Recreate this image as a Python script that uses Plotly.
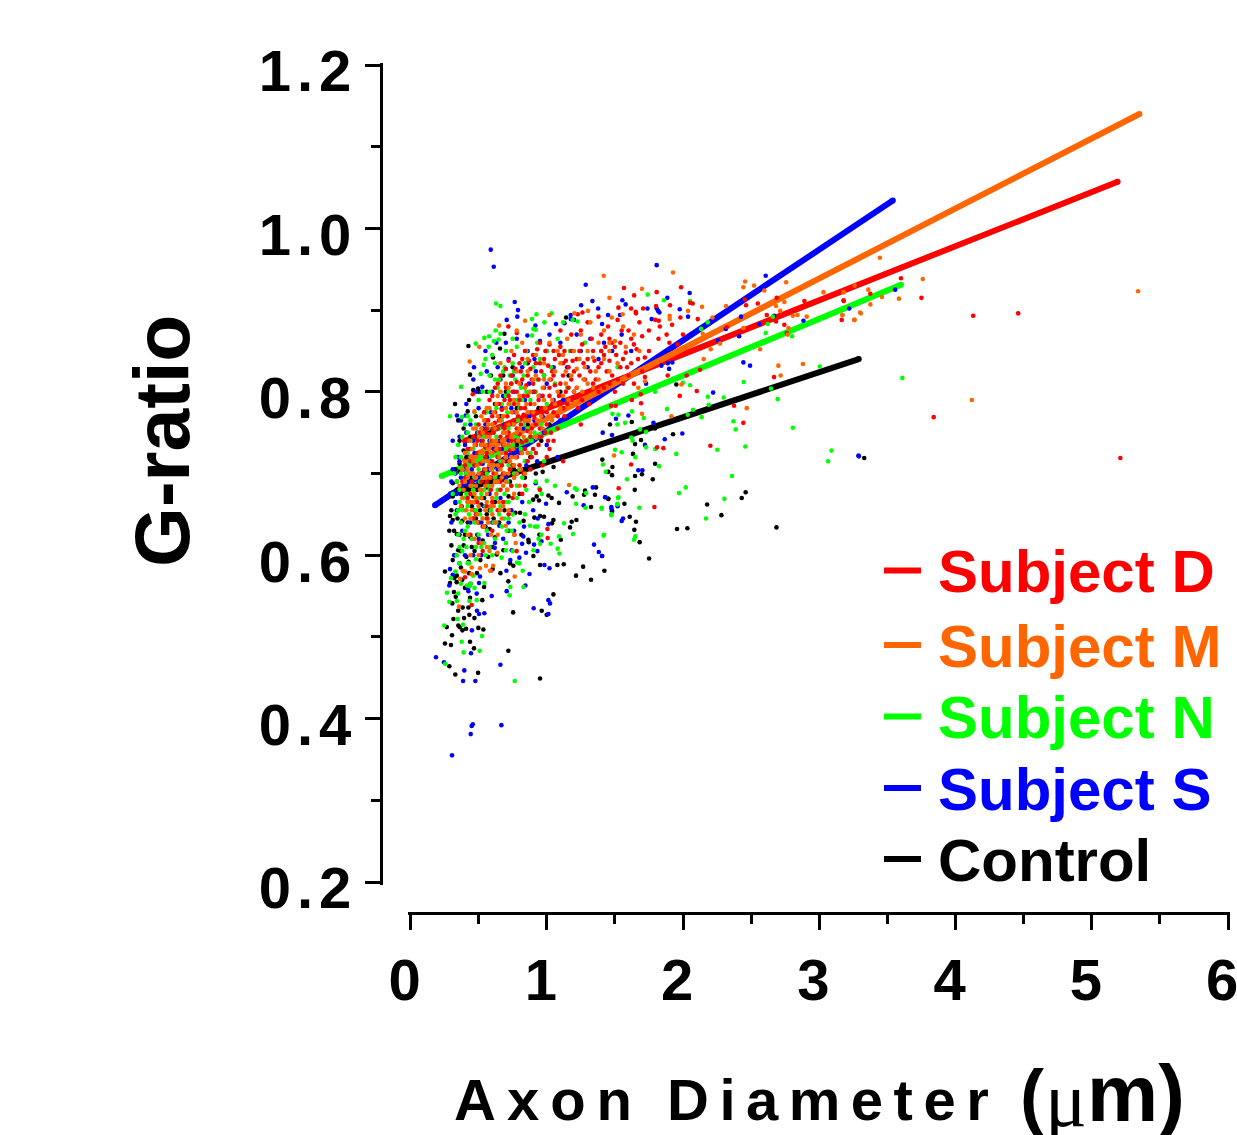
import plotly.graph_objects as go

W, H = 1237, 1135

# Regression lines: (diameter, g-ratio) at both ends
line_d = [(0.40, 0.740), (5.19, 1.057)]
line_m = [(0.40, 0.716), (5.35, 1.140)]
line_n = [(0.23, 0.697), (3.60, 0.931)]
line_s = [(0.18, 0.661), (3.54, 1.034)]
line_c = [(0.30, 0.675), (3.29, 0.840)]

control_points = [
(3.33,.719),(1.951,.809),(1.795,.755),(1.692,.741),(1.624,.763),(1.648,.736),(1.795,.712),(1.778,.693),(1.699,.699),(1.648,.697),
(1.479,.698),(1.482,.708),(1.452,.702),(1.408,.717),(1.633,.724),(2.46,.677),(2.431,.67),(2.177,.662),(2.282,.649),(2.686,.634),
(2.032,.633),(1.956,.632),(1.646,.68),(1.452,.669),(1.57,.663),(1.479,.654),(1.609,.647),(1.655,.641),(1.643,.631),(1.682,.616),
(1.751,.596),(1.927,.748),(1.464,.76),
(.951,.449),(.329,.454),(.496,.456),(.285,.464),(.466,.486),(.718,.483),(.437,.494),(.253,.492),(.297,.49),(.305,.502),
(.381,.508),(.408,.51),(.498,.511),(.535,.509),(.266,.512),(.351,.514),(.361,.512),(.393,.523),(.432,.527),(.469,.523),
(.315,.522),(.753,.53),(.963,.532),(1.0,.527),(1.049,.552),(.383,.536),(.425,.536),(.307,.541),(.332,.549),(.319,.555),
(.437,.548),(.527,.545),(.54,.561),(.253,.58),(.322,.572),(.339,.567),(.488,.578),(.66,.578),(.718,.568),(.427,.592),
(.513,.594),(.603,.583),(.731,.59),(.755,.587),(.951,.588),(1.078,.588),(1.125,.589),(1.215,.575),(1.267,.586),(1.325,.57),
(1.423,.581),(.902,.599),(.633,.601),(.682,.606),(1.103,.619),(.865,.619),(.868,.616),(.946,.625),(.814,.625),(1.039,.639),
(1.049,.643),(1.171,.634),(1.183,.641),(1.218,.643),(.804,.652),(.909,.646),(.951,.648),(.98,.647),(1.09,.664),(1.19,.672),
(1.325,.659),(1.281,.679),(1.274,.674),(1.354,.674),(1.362,.683),(1.452,.669),(1.479,.654),(1.012,.673),(1.036,.67),(.926,.672),
(.943,.667),(.689,.871),(.425,.856),(.606,.842),(.437,.821),(.496,.804),(.461,.802),(.327,.785),(.42,.776),(1.142,.891),
(.657,.853),
(.30,.655),(.31,.672),(.33,.664),(.29,.648),(.285,.63),(.32,.63),(.345,.645),(.36,.625),(.375,.66),(.35,.606),
(.33,.60),(.39,.612),(.41,.598),(.30,.612),(.42,.64),(.44,.622),(.47,.655),(.50,.64),(.53,.618),(.56,.65),
(.58,.632),(.62,.665),(.65,.64),(.69,.655),(.73,.69),(.76,.705),(.80,.675),(.84,.695),(.88,.72),(.92,.70),
(.60,.69),(.55,.70),(.47,.71),(.41,.72),(.36,.74),(.39,.755),(.44,.745),(.52,.735),(.66,.74),(.72,.76),
(.80,.74),(.86,.76),(.94,.78),(1.02,.76),(1.1,.80),(1.16,.82),(.70,.80),(.62,.785),(.55,.775),(.50,.80),
(.75,.83),(.86,.835),(1.0,.85),(.59,.82),(.41,.70),(.34,.69),(.33,.705),(.37,.675),(.42,.665),(.49,.68),
(.31,.643),(.34,.626),(.38,.642),(.31,.688),(.36,.702),(.40,.682),(.44,.695),(.46,.672),(.52,.662),(.56,.683),
(.63,.712),(.68,.692),(.72,.672),(.77,.652),(.83,.642),(.90,.668),(.97,.702),(1.05,.708),(.37,.605),(.43,.578),
(.37,.585),(.31,.594),(.29,.566),(.35,.532),(.40,.56),(.47,.605),(.57,.598),(.62,.622),(.72,.63),
(.35,.765),(.43,.79),(.56,.80),(.66,.77),(.78,.78),(.90,.80),(.98,.82),(.68,.82),(.48,.77),(.58,.75),
(.34,.68),(.35,.655),(.39,.67),(.43,.68),(.45,.66),(.48,.645),(.51,.655),(.54,.67),(.58,.655),(.61,.645),
(.36,.712),(.39,.728),(.44,.73),(.49,.745),(.53,.755),(.62,.73),(.70,.715),(.78,.735),(.85,.715),(.96,.74),
(.40,.625),(.45,.61),(.49,.625),(.55,.635),(.60,.61),(.34,.575),(.38,.57),(.44,.565),
]

subject_s_points = [
(3.29,.721),(3.557,.925),(3.22,.902),(1.807,.955),(2.607,.942),(2.049,.921),(1.555,.912),(1.885,.915),(1.579,.907),(1.739,.902),
(1.807,.902),(1.976,.901),(1.817,.899),(1.827,.897),(1.538,.894),(1.45,.894),(2.037,.892),(1.77,.889),(1.406,.883),(2.426,.892),
(2.884,.887),(2.669,.893),(2.561,.883),(2.412,.868),(2.314,.877),(2.257,.863),(2.443,.836),(2.492,.832),(2.221,.799),(1.729,.81),
(1.898,.828),(1.841,.832),(1.922,.836),(1.888,.835),(1.599,.771),(1.508,.767),(1.479,.747),(1.411,.75),(1.783,.762),(1.995,.749),
(1.866,.742),(1.721,.735),(3.288,.722),(1.702,.704),(1.672,.704),(1.428,.671),(1.474,.659),(1.52,.66),(1.56,.645),(1.55,.642),
(1.406,.599),
(.305,.355),(.442,.381),(.449,.391),(.457,.393),(.667,.392),(.386,.446),(.476,.446),(.395,.459),(.66,.466),(.246,.469),
(.187,.475),(.444,.48),(.451,.508),(.503,.528),(.542,.529),(.488,.532),(.904,.535),(1.012,.528),(1.024,.541),(1.012,.545),
(.425,.556),(.422,.559),(.486,.553),(.596,.55),(.706,.556),(.843,.563),(.285,.563),(.503,.566),(.29,.583),(.31,.576),
(.51,.574),(.704,.581),(.873,.577),(.983,.588),(1.02,.584),(.931,.605),(1.347,.613),(1.382,.604),(1.406,.599),(.733,.594),
(.848,.603),(.743,.606),(.799,.597),(.618,.609),(.907,.613),(.819,.614),(.961,.617),(.828,.623),(.652,.636),(.934,.645),
(.833,.635),(1.012,.638),(1.271,.661),(1.147,.677),(1.338,.683),(1.43,.671),(1.475,.657),(.995,.663),(.919,.688),
(.589,.974),(.611,.953),(1.286,.931),(1.335,.911),(.765,.91),(.789,.9),(.784,.892),(1.252,.906),(1.377,.902),(.706,.888),
(1.176,.894),(1.176,.889),(1.2,.888),(1.13,.884),(1.068,.883),(.917,.881),(.858,.869),(.78,.865),(.466,.83),(.461,.815),
(.527,.806),(.341,.771),(.405,.771),
(.86,.85),(.95,.862),(1.02,.87),(1.1,.86),(1.22,.87),(1.32,.865),(1.42,.86),(1.55,.87),(1.62,.85),(1.3,.83),
(1.15,.83),(1.05,.83),(.92,.825),(.82,.83),(.72,.84),(.64,.83),(.56,.825),(.60,.80),(.68,.795),(.76,.80),
(.84,.79),(.95,.795),(1.05,.79),(1.2,.80),(.50,.78),(.44,.76),(.55,.76),(.63,.755),(.72,.74),(.80,.725),
(.90,.74),(1.0,.735),(1.08,.72),(.35,.72),(.40,.735),(.47,.725),(.56,.72),(.64,.705),(.70,.695),(.78,.70),
(.85,.71),(.30,.69),(.33,.70),(.38,.68),(.42,.69),(.50,.69),(.58,.675),(.66,.67),(.74,.655),(.82,.665),
(.90,.655),(.30,.64),(.34,.655),(.38,.63),(.44,.64),(.50,.62),(.54,.66),(.60,.64),(.68,.62),(.76,.63),
(.32,.60),(.36,.59),(.40,.60),(.46,.60),(.52,.60),(.33,.665),(.47,.665),(.62,.615),
(.31,.705),(.29,.675),(.37,.695),(.45,.705),(.53,.712),(.61,.73),(.69,.76),(.77,.775),(.87,.77),(.97,.77),
(1.12,.79),(.52,.80),(.66,.815),(.75,.82),(.87,.81),(1.0,.81),(1.25,.85),(1.38,.84),(1.48,.85),(.58,.74),
(.49,.75),(.41,.75),(.36,.745),(.67,.73),(.75,.71),(.93,.715),(.44,.665),(.52,.64),(.57,.625),(.72,.64),
(.34,.675),(.36,.715),(.39,.705),(.43,.72),(.46,.74),(.52,.74),(.59,.715),(.64,.74),(.71,.72),(.77,.745),
(.83,.755),(.91,.765),(.98,.75),(1.1,.765),(.59,.775),(.67,.78),(.74,.78),(.81,.81),(.91,.84),(.70,.86),
(.63,.86),(.55,.85),(.48,.80),(.41,.785),(.37,.765),(.31,.74),
]

subject_n_points = [
(3.61,.817),(2.659,.892),(2.622,.883),(2.801,.868),(2.607,.872),(2.133,.877),(2.182,.885),(1.741,.919),(1.861,.912),(2.052,.911),
(3.004,.831),(2.446,.812),(2.0,.811),(2.052,.808),(2.182,.794),(2.299,.793),(2.695,.791),(2.646,.804),(2.189,.784),(2.074,.778),
(2.035,.772),(2.137,.769),(1.883,.779),(2.37,.764),(2.387,.754),(2.806,.756),(1.795,.80),(2.252,.729),(2.458,.733),(3.09,.728),
(3.065,.715),(1.951,.724),(1.824,.709),(2.36,.697),(1.589,.693),(1.433,.702),(1.413,.711),(1.65,.72),(1.55,.726),(1.501,.729),
(2.02,.683),(1.971,.676),(2.304,.669),(2.169,.645),(1.526,.671),(1.518,.662),(1.403,.658),(1.68,.658),(1.474,.65),(1.42,.625),
(1.65,.623),(1.641,.619),(1.626,.776),(1.482,.773),(1.526,.772),(1.712,.768),(1.575,.762),(1.518,.76),(1.685,.754),(1.729,.751),
(1.62,.744),(1.63,.74),(1.729,.732),(1.797,.73),
(.765,.446),(.256,.467),(.39,.481),(.508,.483),(.376,.494),(.525,.501),(.248,.514),(.385,.515),(.346,.522),(.285,.543),
(.34,.544),(.268,.554),(.349,.553),(.432,.544),(.486,.545),(.728,.551),(.733,.561),(.829,.561),(.415,.563),(.435,.562),
(.297,.572),(.542,.566),(.824,.581),(.782,.591),(.799,.59),(.669,.597),(.902,.606),(1.08,.608),(1.093,.602),(1.029,.614),
(.951,.614),(.70,.606),(.75,.605),(1.09,.623),(.94,.62),(.961,.625),(1.193,.626),(1.418,.624),(.743,.63),(.706,.63),
(.877,.636),(.914,.635),(.931,.635),(1.127,.639),(1.215,.663),(1.286,.658),(1.289,.676),(1.404,.657),(1.475,.649),(1.523,.67),
(1.519,.663),(1.061,.685),(1.208,.682),(1.22,.68),(.963,.675),(.946,.682),(1.0,.691),
(.628,.908),(.66,.905),(.924,.895),(.892,.889),(1.036,.896),(1.227,.886),(1.19,.888),(1.12,.885),(.983,.885),(.902,.877),
(.92,.876),(.625,.875),(.66,.871),(.892,.869),(.75,.865),(.479,.859),(.542,.866),(.577,.868),(.613,.862),(.647,.864),
(.574,.855),(.515,.822),(.537,.833),(.371,.806),(.29,.77),(.378,.769),
(.70,.85),(.78,.855),(.85,.85),(.93,.86),(1.0,.85),(1.08,.865),(1.17,.85),(1.28,.86),(1.4,.85),(1.52,.83),
(.62,.835),(.68,.825),(.75,.835),(.83,.82),(.90,.83),(.98,.82),(1.06,.81),(1.15,.805),(.58,.80),(.66,.80),
(.74,.81),(.82,.79),(.92,.80),(1.0,.785),(.50,.79),(.56,.775),(.63,.78),(.71,.775),(.79,.765),(.87,.775),
(.96,.76),(.42,.75),(.48,.76),(.54,.745),(.61,.75),(.68,.75),(.76,.745),(.84,.74),(.35,.735),(.40,.725),
(.46,.73),(.52,.72),(.58,.725),(.64,.725),(.70,.72),(.78,.72),(.88,.725),(.98,.715),(.32,.70),(.38,.705),
(.44,.70),(.50,.705),(.56,.70),(.62,.695),(.68,.70),(.74,.685),(.82,.695),(.92,.69),(.31,.675),(.36,.68),
(.41,.675),(.46,.68),(.52,.675),(.58,.68),(.64,.68),(.70,.665),(.78,.67),(.87,.665),(.33,.65),(.38,.655),
(.43,.65),(.48,.655),(.53,.645),(.59,.655),(.65,.65),(.72,.645),(.80,.64),(.35,.625),(.40,.63),(.45,.62),
(.50,.625),(.56,.63),(.62,.62),(.70,.615),(.34,.60),(.38,.605),(.43,.59),(.48,.595),(.55,.60),(.33,.58),
(.37,.565),(.46,.575),
(.55,.84),(.60,.845),(.65,.815),(.72,.80),(.78,.79),(.85,.80),(.95,.84),(.60,.76),(.67,.765),(.75,.76),
(.83,.76),(.91,.75),(.44,.765),(.40,.76),(.33,.72),(.37,.72),(.43,.715),(.49,.72),(.55,.715),(.61,.71),
(.67,.71),(.73,.705),(.80,.705),(.34,.69),(.39,.69),(.45,.685),(.51,.69),(.57,.685),(.63,.67),(.69,.675),
(.36,.665),(.42,.66),(.48,.665),(.55,.66),(.61,.64),(.67,.635),(.37,.64),(.42,.635),(.47,.64),(.52,.61),
(.58,.61),(.41,.61),(.36,.61),(.39,.58),(.44,.565),
(.69,.83),(.73,.82),(.77,.815),(.81,.805),(.87,.80),(.93,.815),(1.03,.83),(.62,.815),(.58,.82),(.53,.80),
(.47,.775),(.42,.77),(.38,.745),(.44,.74),(.50,.75),(.57,.755),(.65,.755),(.72,.755),(.79,.745),(.86,.755),
(.37,.70),(.41,.70),(.47,.695),(.53,.695),(.59,.695),(.65,.69),(.71,.69),(.78,.685),(.85,.68),(.35,.655),
(.40,.655),(.46,.645),(.51,.65),(.57,.645),(.63,.64),(.69,.645),(.75,.65),(.84,.65),(.39,.62),(.43,.625),
(.48,.61),(.54,.615),(.60,.60),(.42,.59),(.47,.56),(.36,.59),
(.54,.735),(.59,.74),(.63,.745),(.69,.735),(.75,.735),(.81,.73),(.89,.74),(.42,.725),(.48,.735),(.55,.73),
(.60,.705),(.66,.715),(.72,.71),(.76,.70),(.84,.715),(.40,.67),(.44,.675),(.49,.67),(.54,.68),(.60,.66),
(.66,.66),(.72,.665),(.67,.785),(.73,.785),(.80,.78),(.88,.79),(.64,.805),(.70,.795),(.76,.825),(.84,.835),
]

subject_d_points = [
(5.21,.719),(4.46,.896),(4.13,.893),(3.84,.769),(3.75,.915),(3.60,.939),(3.375,.92),(3.18,.911),(3.165,.888),(3.258,.930),
(3.178,.912),(2.891,.911),(2.615,.894),(2.688,.915),(2.683,.886),(2.744,.882),(2.762,.872),(2.549,.908),(2.463,.906),(2.453,.913),
(2.321,.879),(1.986,.928),(1.567,.927),(1.641,.918),(1.807,.922),(2.052,.909),(2.071,.908),(1.802,.905),(1.905,.906),(1.707,.902),
(1.619,.902),(1.526,.903),(1.653,.898),(1.655,.896),(1.981,.891),(2.108,.889),(1.797,.888),(1.822,.887),(2.668,.818),(2.125,.827),
(2.027,.82),(2.101,.801),(1.976,.795),(2.375,.783),(2.443,.762),(2.201,.734),(1.81,.732),(1.856,.731),(1.619,.711),(1.528,.682),
(1.79,.659),(1.692,.786),(1.624,.79),(1.69,.797),(1.721,.818),(1.888,.82),(1.506,.783),(1.472,.783),
(.449,.539),(.40,.573),(.779,.605),(.53,.605),(.59,.581),(.763,.625),(1.005,.632),(1.007,.621),(.718,.88),(.78,.872),
(1.262,.897),(1.227,.895),(.457,.797),
(1.30,.885),(1.38,.892),(1.45,.88),(1.52,.888),(1.60,.875),(1.68,.885),(1.75,.875),(1.83,.88),(1.92,.882),(2.0,.87),
(1.10,.875),(1.18,.87),(1.25,.875),(1.33,.865),(1.40,.87),(1.48,.86),(1.55,.875),(1.62,.865),(1.70,.868),(1.90,.86),
(.95,.86),(1.02,.858),(1.10,.855),(1.18,.85),(1.26,.858),(1.34,.85),(1.42,.845),(1.50,.855),(1.58,.848),(1.66,.852),
(1.72,.842),(1.96,.858),(.84,.85),(.90,.845),(.98,.84),(1.06,.84),(1.14,.838),(1.22,.84),(1.30,.84),(1.38,.83),
(1.46,.838),(1.54,.83),(1.62,.835),(1.70,.825),(.72,.838),(.80,.835),(.88,.828),(.96,.825),(1.04,.825),(1.12,.82),
(1.20,.825),(1.28,.815),(1.36,.815),(1.44,.825),(1.52,.815),(1.60,.82),(.66,.82),(.74,.82),(.82,.815),(.90,.81),
(.98,.805),(1.06,.808),(1.14,.80),(1.22,.805),(1.30,.80),(1.42,.805),(1.50,.80),(.62,.805),(.70,.805),(.78,.80),
(.86,.795),(.94,.79),(1.02,.795),(1.10,.785),(1.18,.79),(.58,.79),(.65,.785),(.73,.79),(.81,.78),(.89,.775),
(.97,.775),(1.05,.775),(1.13,.77),(.54,.775),(.60,.77),(.68,.77),(.76,.765),(.84,.765),(.92,.76),(1.0,.76),
(1.08,.755),(1.25,.76),(.50,.76),(.56,.755),(.64,.755),(.72,.75),(.80,.748),(.88,.745),(.96,.745),(1.05,.74),
(.46,.745),(.53,.74),(.60,.74),(.68,.735),(.76,.73),(.84,.73),(.92,.725),(1.0,.72),(1.12,.715),(.42,.73),
(.49,.725),(.56,.725),(.64,.72),(.72,.715),(.80,.71),(.88,.705),(.40,.71),(.47,.71),(.54,.705),(.61,.70),
(.68,.70),(.76,.695),(.84,.685),(.95,.68),(.38,.69),(.45,.69),(.52,.69),(.59,.68),(.66,.68),(.75,.67),
(.42,.67),(.49,.665),(.56,.66),(.64,.655),(.72,.65),(.46,.645),(.53,.635),(.60,.63),(.50,.615),(.44,.625),
(.76,.845),(.87,.838),(.93,.852),(1.01,.832),(1.09,.845),(1.16,.83),(1.24,.85),(1.32,.825),(1.40,.835),(1.48,.82),
(1.56,.84),(1.64,.81),(.70,.828),(.78,.812),(.86,.82),(.94,.815),(1.02,.805),(1.10,.81),(1.18,.815),(1.26,.79),
(.64,.81),(.72,.795),(.80,.79),(.88,.785),(.96,.78),(1.04,.785),(1.12,.78),(.60,.795),(.67,.778),(.75,.775),
(.83,.772),(.91,.768),(.99,.75),(.55,.765),(.62,.762),(.70,.76),(.78,.755),(.86,.752),(.94,.735),(.51,.75),
(.58,.748),(.66,.745),(.74,.74),(.82,.738),(.90,.73),(1.02,.73),(.48,.735),(.55,.732),(.62,.728),(.70,.725),
(.78,.72),(.86,.715),(.44,.715),(.51,.712),(.58,.71),(.65,.708),(.73,.705),(.40,.695),(.48,.695),(.56,.69),
(.63,.69),(.71,.68),(.44,.675),(.52,.67),(.60,.665),(.68,.665),(.56,.645),(.48,.65),
(.74,.81),(.77,.828),(.82,.84),(.85,.808),(.92,.835),(.99,.85),(1.05,.85),(1.12,.835),(1.19,.838),(1.27,.835),
(1.35,.838),(1.43,.855),(1.51,.845),(1.59,.83),(1.67,.84),(1.75,.85),(1.82,.865),(1.88,.87),(.69,.79),(.76,.785),
(.84,.78),(.92,.775),(1.00,.775),(1.08,.77),(1.15,.785),(1.23,.78),(1.31,.785),(1.38,.80),(1.46,.81),(1.56,.81),
(.62,.775),(.71,.77),(.79,.77),(.87,.765),(.95,.755),(1.03,.75),(.57,.765),(.65,.765),(.73,.76),(.81,.76),
(.89,.755),(.49,.74),(.57,.735),(.65,.73),(.73,.728),(.81,.725),(.89,.72),(.97,.71),(.45,.70),(.52,.70),
(.59,.695),(.66,.69),(.74,.685),(.82,.675),
(.91,.80),(.97,.795),(1.03,.815),(1.09,.795),(1.16,.805),(1.24,.82),(1.34,.81),(1.40,.85),(1.46,.865),(1.54,.86),
(1.64,.858),(.81,.825),(.89,.815),(.95,.835),(1.05,.82),(1.13,.85),(.75,.80),(.83,.795),(.71,.745),(.77,.74),
(.85,.74),(.93,.745),(1.01,.74),(.61,.75),(.69,.755),(.55,.72),(.60,.715),(.67,.71),(.75,.71),(.83,.70),
]

subject_m_points = [
(5.34,.923),(4.12,.79),(3.76,.938),(3.585,.914),(3.445,.964),(3.46,.916),(3.36,.925),(3.375,.907),(3.305,.896),(3.26,.888),
(3.26,.93),(3.18,.922),(3.17,.894),(3.031,.922),(3.178,.922),(3.17,.894),(3.256,.888),(3.3,.897),(2.908,.892),(2.84,.894),
(2.806,.893),(2.744,.910),(2.683,.905),(2.713,.899),(2.757,.934),(2.597,.924),(2.522,.930),(2.456,.935),(2.443,.928),(2.774,.878),
(2.769,.870),(2.443,.878),(2.316,.905),(2.216,.891),(2.145,.871),(2.272,.859),(2.204,.852),(2.152,.840),(2.566,.852),(2.70,.832),
(2.881,.834),(2.717,.82),(1.988,.809),(2.468,.78),(1.915,.77),(1.927,.946),(1.418,.942),(1.699,.926),(1.46,.915),(2.14,.904),
(2.037,.899),(1.557,.895),(1.902,.893),(1.477,.891),(1.902,.889),(1.46,.86),(1.721,.813),(1.672,.805),(1.699,.773),(1.494,.722),
(.356,.537),(.364,.571),(.449,.577),(.383,.581),(.4,.58),(.449,.585),(.51,.584),(.554,.587),(.584,.581),(.606,.587),
(.765,.574),(.638,.603),(.579,.605),(.772,.615),(.762,.625),(.699,.636),(1.164,.686),
(.841,.887),(1.019,.894),(1.303,.899),(1.203,.896),(.65,.881),(.78,.875),(.505,.855),(.434,.837),(.469,.776),
(1.32,.885),(1.42,.875),(1.56,.88),(1.64,.87),(1.25,.87),(1.15,.865),(1.38,.86),(1.50,.862),(1.58,.855),(1.68,.85),
(1.08,.85),(1.20,.85),(1.30,.85),(1.42,.84),(1.52,.835),(.98,.835),(1.10,.835),(1.22,.828),(1.36,.825),(.86,.84),
(.92,.82),(1.02,.815),(1.14,.81),(1.26,.80),(.78,.825),(.84,.805),(.94,.795),(1.04,.79),(.70,.81),(.76,.79),
(.86,.775),(.96,.77),(.64,.795),(.70,.78),(.78,.775),(.58,.78),(.64,.77),(.72,.76),(.80,.755),(.88,.75),
(.52,.77),(.57,.76),(.62,.755),(.68,.75),(.74,.745),(.48,.755),(.53,.75),(.58,.745),(.63,.74),(.69,.735),
(.75,.73),(.82,.725),(.43,.74),(.47,.735),(.52,.735),(.57,.73),(.60,.725),(.65,.72),(.70,.72),(.76,.71),
(.84,.70),(.40,.725),(.44,.72),(.48,.72),(.53,.715),(.57,.715),(.61,.71),(.66,.705),(.72,.70),(.80,.685),
(.38,.705),(.42,.705),(.46,.70),(.50,.70),(.54,.695),(.58,.695),(.62,.69),(.68,.685),(.76,.675),(.36,.685),
(.40,.69),(.44,.685),(.48,.685),(.52,.68),(.56,.675),(.60,.67),(.65,.665),(.72,.655),(.38,.67),(.42,.665),
(.46,.665),(.50,.66),(.55,.655),(.60,.65),(.67,.645),(.40,.645),(.44,.645),(.49,.64),(.54,.635),(.59,.625),
(.64,.625),(.42,.625),(.47,.62),(.52,.615),(.56,.61),(.44,.60),(.50,.60),
(.55,.735),(.59,.735),(.63,.73),(.67,.725),(.51,.725),(.55,.705),(.59,.705),(.63,.70),(.67,.695),(.46,.715),
(.42,.695),(.47,.675),(.51,.68),(.55,.685),(.59,.66),(.63,.675),(.68,.66),(.45,.655),(.49,.65),(.53,.645),
(.57,.64),(.62,.64),(.72,.785),(.80,.795),(.88,.80),(.98,.79),(1.08,.80),(1.18,.82),(1.28,.83),(1.34,.842),
(1.46,.85),(1.12,.845),(1.02,.86),(.92,.845),(.82,.86),(.74,.85),(.66,.835),(.60,.76),(.54,.765),(.76,.76),
(.45,.73),(.49,.71),(.53,.725),(.58,.71),(.61,.74),(.64,.71),(.68,.715),(.73,.715),(.78,.70),(.86,.725),
(.92,.745),(.97,.755),(1.04,.765),(1.10,.78),(1.16,.79),(1.22,.805),(1.30,.81),(1.38,.815),(1.46,.825),(.90,.775),
(.84,.765),(.78,.75),(.70,.75),(.66,.765),(.61,.775),(.56,.745),(.50,.745),(.46,.755),(.43,.70),(.39,.68),
(.37,.66),(.41,.655),(.44,.665),(.48,.67),(.52,.67),(.56,.665),(.61,.66),(.66,.655),(.71,.68),(.76,.695),
(.90,.815),(.98,.815),(1.06,.825),(1.14,.825),(1.24,.84),(.86,.825),(.80,.81),(.72,.805),(.66,.80),
(.74,.72),(.79,.74),(.83,.745),(.87,.765),(.93,.765),(.99,.78),(1.06,.785),(1.12,.795),(1.20,.80),(1.27,.815),
(1.34,.805),(.97,.805),(.91,.785),(.85,.785),(.79,.785),(.74,.775),(.68,.77),(.63,.785),(.56,.78),(.52,.755),
(.67,.74),(.72,.735),(.77,.72),(.81,.705),(.69,.70),(.64,.69),(.70,.69),(.60,.685),(.56,.695),(.48,.695),
]

series = [
    ("Control", "#000000", control_points, line_c),
    ("Subject S", "#0000ff", subject_s_points, line_s),
    ("Subject N", "#00ff00", subject_n_points, line_n),
    ("Subject D", "#ff0000", subject_d_points, line_d),
    ("Subject M", "#ff6600", subject_m_points, line_m),
]
legend_rows = [("Subject D", "#ff0000", 571, 570.5), ("Subject M", "#ff6600", 646, 645),
               ("Subject N", "#00ff00", 717, 716.5), ("Subject S", "#0000ff", 789, 788),
               ("Control", "#000000", 860, 859)]

fig = go.Figure()
for name, color, pts, ln in series:
    fig.add_trace(go.Scatter(x=[p[0] for p in ln], y=[p[1] for p in ln], mode="lines+markers",
                             line=dict(color=color, width=6), marker=dict(color=color, size=6),
                             name=name, showlegend=False, hoverinfo="skip"))
for name, color, pts, ln in series:
    fig.add_trace(go.Scatter(x=[p[0] for p in pts], y=[p[1] for p in pts], mode="markers",
                             marker=dict(color=color, size=4.6, line=dict(width=0)),
                             name=name, showlegend=False))

def px(v): return v / W
def py(v): return 1 - v / H

FONT = "Liberation Sans"
annotations = []
def text(s, x, y, size, color="#000000", anchor="left", angle=0, weight="bold", family=FONT):
    annotations.append(dict(text=s, x=px(x), y=py(y), xref="paper", yref="paper", xanchor=anchor,
                            yanchor="middle", showarrow=False, textangle=angle,
                            font=dict(family=family, size=size, color=color, weight=weight)))

shapes = []
for name, color, ty, ly in legend_rows:
    text(name, 936, ty, 60, color)
    shapes.append(dict(type="line", xref="paper", yref="paper", x0=px(884), x1=px(921), y0=py(ly), y1=py(ly),
                       line=dict(color=color, width=6)))

text("G-ratio", 162, 441, 77, anchor="center", angle=-90)
text("<span style='letter-spacing:11px'>Axon</span>", 452, 1099, 58)
text("<span style='letter-spacing:10.5px'>Diameter</span>", 665, 1099, 58)
text("(", 1018, 1096, 72)
text("\u03bc", 1043, 1099, 78, weight="normal", family="Liberation Serif")
text("m)", 1085, 1093, 80)

xticks = [0, 1, 2, 3, 4, 5, 6]
yticks = [0.2, 0.4, 0.6, 0.8, 1.0, 1.2]
x0 = 407.5; x1 = 1230; ux = 136.25; zx = 410.5
ybot = 884.5; ytop = 62.5; uy = 817.0; zy = 882
tickfont = dict(family=FONT, size=58, color="#000000", weight="bold")

fig.update_layout(
    width=W, height=H, margin=dict(l=0, r=0, t=0, b=0), autosize=False,
    paper_bgcolor="white", plot_bgcolor="white", showlegend=False,
    xaxis=dict(automargin=False, domain=[px(x0), px(x1)], range=[(x0 - zx) / ux, (x1 - zx) / ux], anchor="free",
               position=py(912.5), showgrid=False, zeroline=False, showline=True, linecolor="black", linewidth=3,
               ticks="outside", ticklen=15, tickwidth=3, tickcolor="black", tickvals=xticks,
               ticktext=[str(v) for v in xticks], tickfont=tickfont, ticklabelshift=-6, ticklabelstandoff=1,
               ticklabeloverflow="allow",
               minor=dict(tickvals=[0.5, 1.5, 2.5, 3.5, 4.5, 5.5], ticks="outside", ticklen=9, tickwidth=3,
                          tickcolor="black", showgrid=False)),
    yaxis=dict(automargin=False, domain=[py(ybot), py(ytop)], range=[0.2 + (zy - ybot) / uy, 0.2 + (zy - ytop) / uy], anchor="free",
               position=px(381), showgrid=False, zeroline=False, showline=True, linecolor="black", linewidth=3,
               ticks="outside", ticklen=15, tickwidth=3, tickcolor="black", tickvals=yticks,
               ticktext=["<span style='letter-spacing:6px'>%.1f</span>" % v for v in yticks], tickfont=tickfont,
               ticklabelshift=6, ticklabelstandoff=-4, ticklabeloverflow="allow",
               minor=dict(tickvals=[0.3, 0.5, 0.7, 0.9, 1.1], ticks="outside", ticklen=9, tickwidth=3,
                          tickcolor="black", showgrid=False)),
    annotations=annotations, shapes=shapes,
)
fig.write_html("out.html", config={"displayModeBar": False}, post_script="document.body.style.margin='0';")
